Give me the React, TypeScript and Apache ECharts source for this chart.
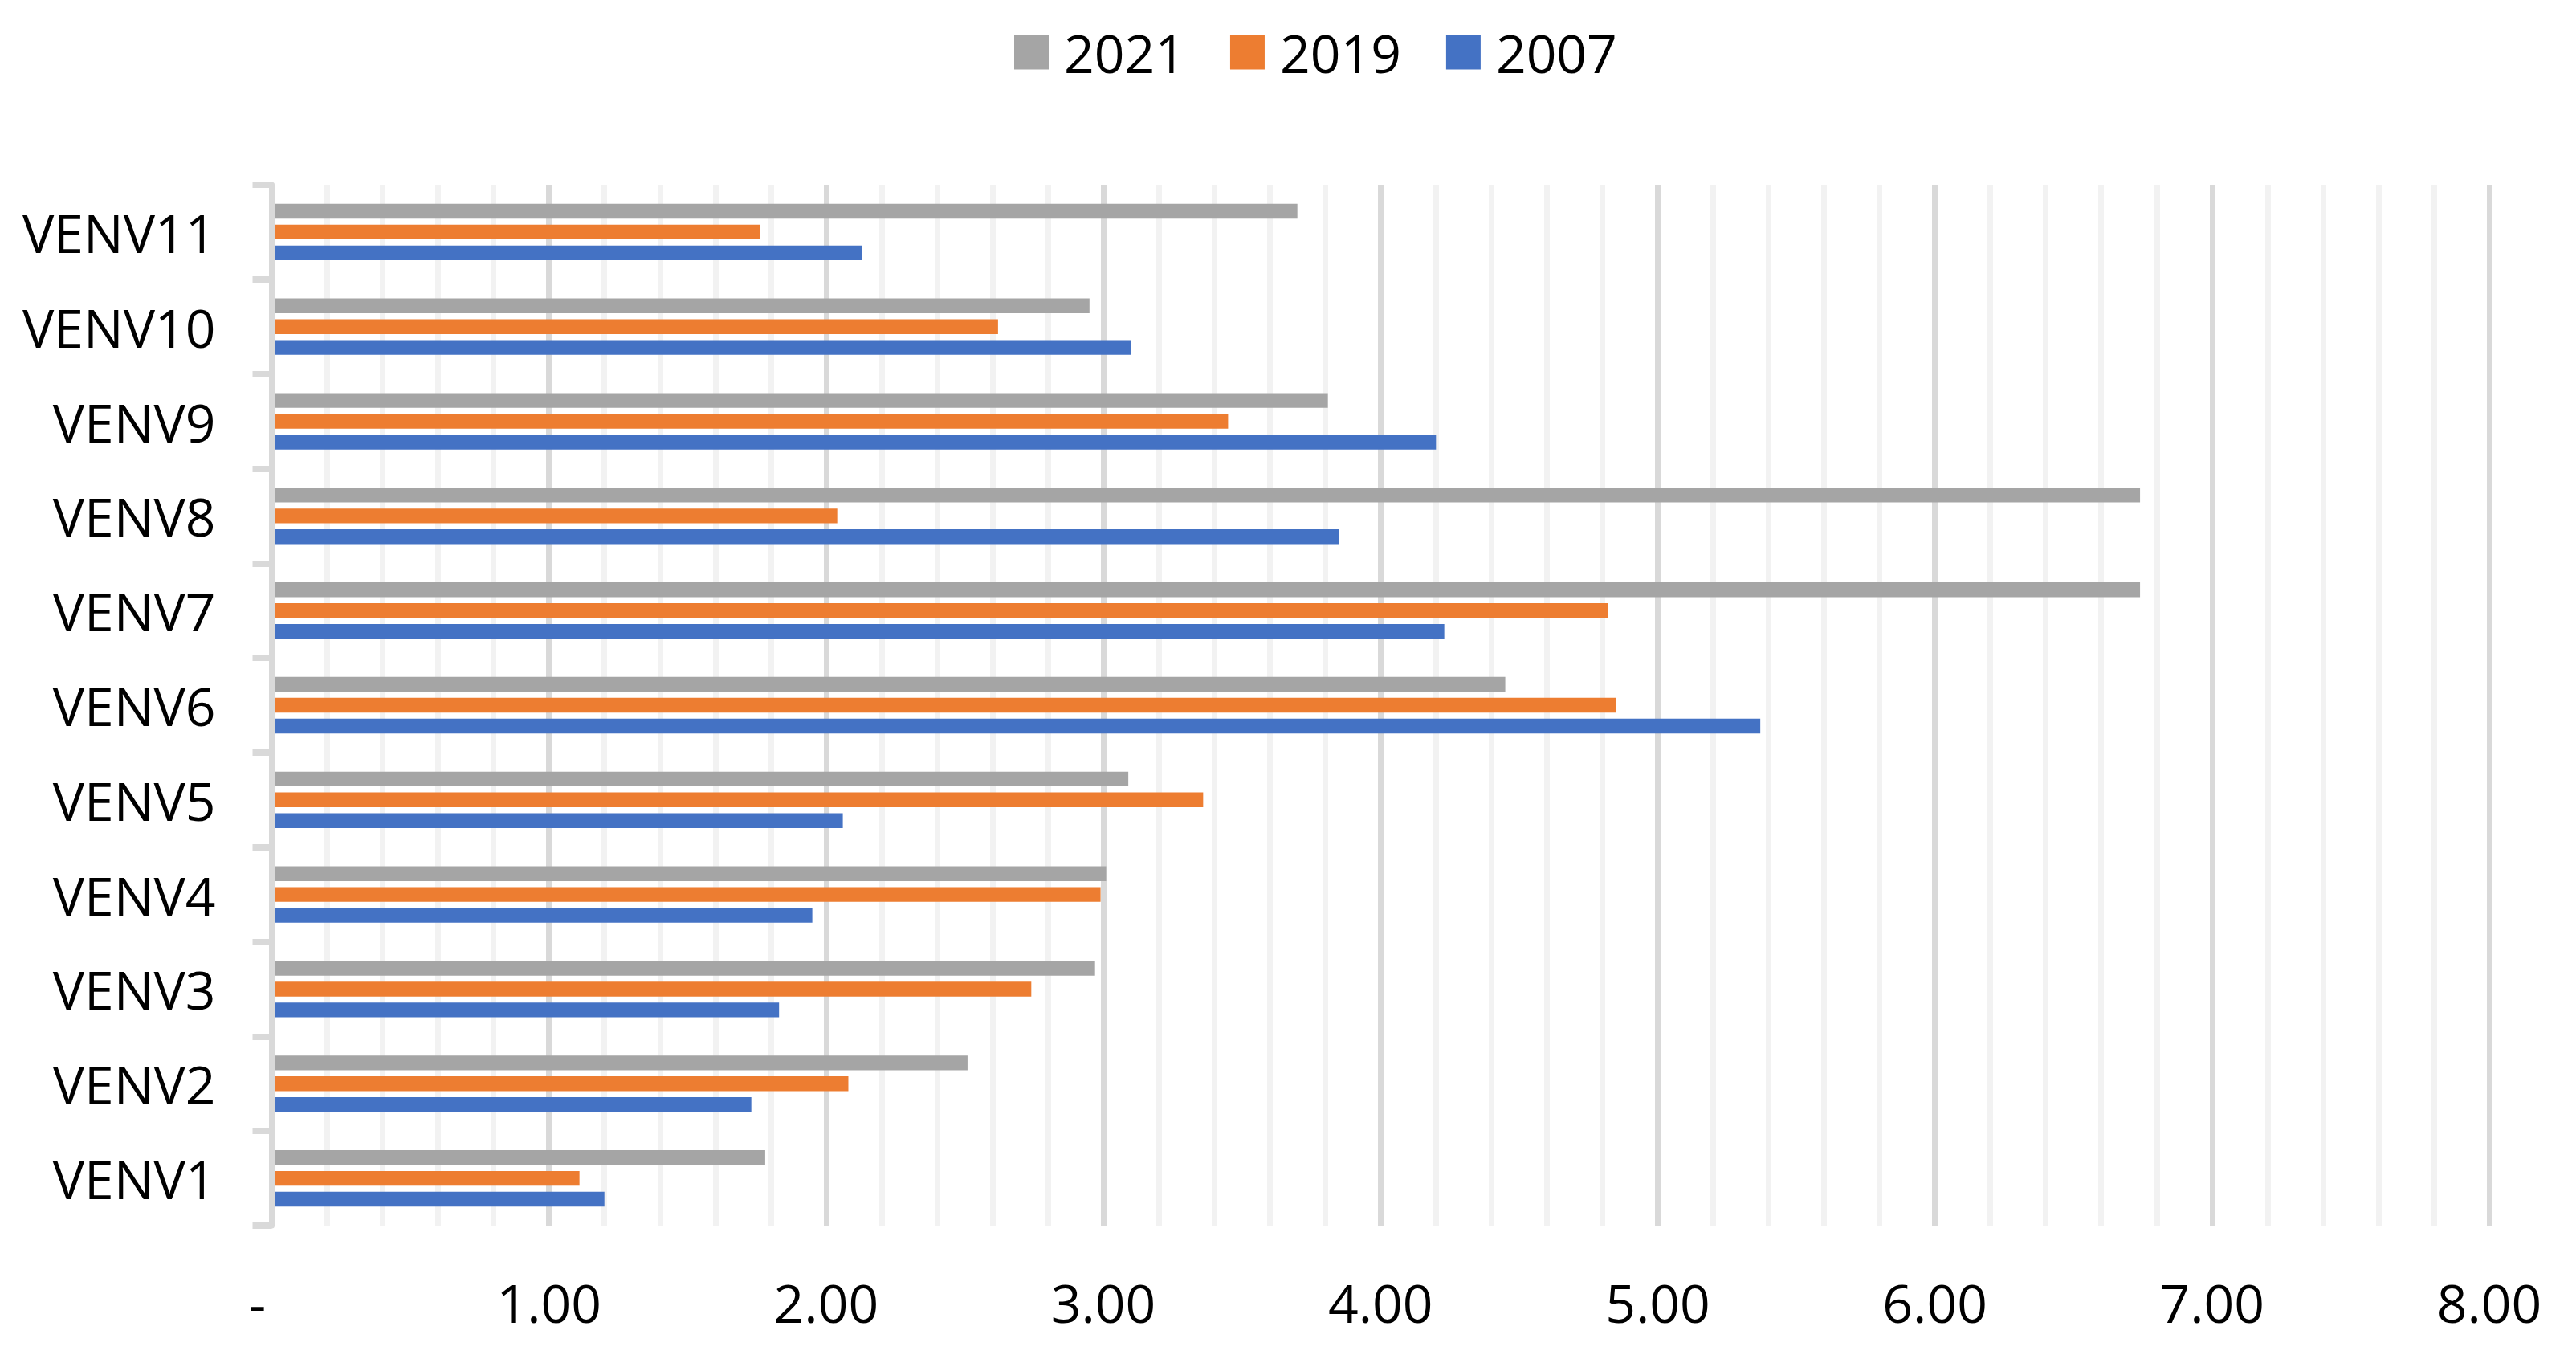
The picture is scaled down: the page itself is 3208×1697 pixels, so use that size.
import React, { useEffect, useRef } from "react";
import * as echarts from "echarts";

const categories = ["VENV1", "VENV2", "VENV3", "VENV4", "VENV5", "VENV6", "VENV7", "VENV8", "VENV9", "VENV10", "VENV11"];
const values2021 = [1.78, 2.51, 2.97, 3.01, 3.09, 4.45, 6.74, 6.74, 3.81, 2.95, 3.70];
const values2019 = [1.11, 2.08, 2.74, 2.99, 3.36, 4.85, 4.82, 2.04, 3.45, 2.62, 1.76];
const values2007 = [1.20, 1.73, 1.83, 1.95, 2.06, 5.37, 4.23, 3.85, 4.20, 3.10, 2.13];
const seriesNames = ["2021", "2019", "2007"];
const seriesColors = ["#a5a5a5", "#ed7d31", "#4472c4"];
const xMin = 0;
const xMax = 8;
const xInterval = 1;

const FONT = "'Open Sans', 'Noto Sans', sans-serif";

export default function App() {
  const ref = useRef<HTMLDivElement>(null);
  useEffect(() => {
    document.body.style.margin = "0";
    document.body.style.overflow = "hidden";
    if (!ref.current) return;
    const chart = echarts.init(ref.current, undefined, { renderer: "svg" });
    const seriesData = [values2021, values2019, values2007];
    chart.setOption({
      animation: false,
      backgroundColor: "#ffffff",
      textStyle: { fontFamily: FONT },
      legend: {
        data: seriesNames,
        left: 1258,
        top: 27,
        icon: "rect",
        itemWidth: 43,
        itemHeight: 43,
        itemGap: 56,
        textStyle: { fontSize: 66, color: "#000", fontFamily: FONT, padding: [0, 0, 0, 14] },
      },
      grid: { left: 338.5, right: 108, top: 230, bottom: 171, containLabel: false },
      xAxis: {
        type: "value",
        min: xMin,
        max: xMax,
        interval: xInterval,
        axisLine: { show: false },
        axisTick: { show: false },
        minorTick: { show: false, splitNumber: 5 },
        splitLine: { show: true, lineStyle: { color: "#d9d9d9", width: 7 } },
        minorSplitLine: { show: true, lineStyle: { color: "#f2f2f2", width: 7 } },
        axisLabel: {
          fontSize: 66,
          color: "#000",
          fontFamily: FONT,
          margin: 62,
          formatter: (v: number) => (v === 0 ? "{d|-}" : v.toFixed(2)),
          rich: { d: { fontSize: 66, color: "#000", fontFamily: FONT, padding: [0, 36, 0, 0] } },
        },
      },
      yAxis: {
        type: "category",
        data: categories,
        z: 3,
        axisLine: { show: true, lineStyle: { color: "#d9d9d9", width: 7 } },
        axisTick: { show: true, length: 24, lineStyle: { color: "#d9d9d9", width: 8 } },
        axisLabel: { fontSize: 66, color: "#000", fontFamily: FONT, margin: 70, padding: [8, 0, 0, 0] },
        splitLine: { show: false },
      },
      series: seriesNames.map((name, i) => ({
        name,
        type: "bar",
        data: seriesData[i],
        barWidth: 18.4,
        barGap: "41%",
        itemStyle: { color: seriesColors[i] },
      })),
    });
    return () => chart.dispose();
  }, []);
  return <div ref={ref} style={{ width: "3208px", height: "1697px" }} />;
}
